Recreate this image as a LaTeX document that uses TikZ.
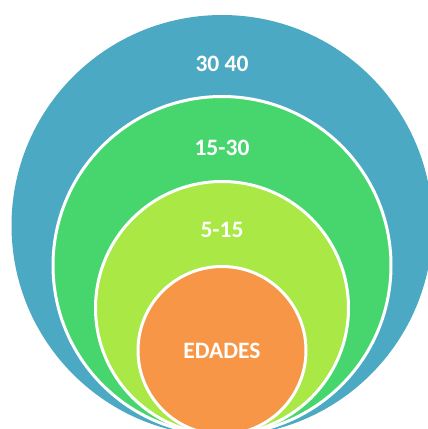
\documentclass[tikz,border=0pt]{standalone}
\usepackage{fontspec}
\setmainfont{Carlito}
\definecolor{cblue}{HTML}{4BA9C3}
\definecolor{cgreen}{HTML}{47D66E}
\definecolor{clime}{HTML}{A9E845}
\definecolor{corange}{HTML}{F79646}
\begin{document}
\begin{tikzpicture}[x=1pt,y=-1pt,
  ring/.style={circle, inner sep=0pt, outer sep=0pt, draw=white, line width=3pt},
  lbl/.style={text=white, font=\bfseries\fontsize{23.5}{24}\selectfont, inner sep=0pt}]
\useasboundingbox (0,0) rectangle (428,429);
\clip (0,0) rectangle (428,429);
\fill[white] (0,0) rectangle (428,429);
\node[circle, inner sep=0pt, fill=cblue, minimum size=421pt] (c1) at (222,225.5) {};
\node[ring, fill=cgreen, minimum size=338pt] (c2) at (222,265.5) {};
\node[ring, fill=clime, minimum size=253pt] (c3) at (222,308) {};
\node[ring, fill=corange, minimum size=168pt] (c4) at (222,350.5) {};
\node[lbl] (t1) at (222,64) {30 40};
\node[lbl] (t2) at (222,147.5) {15-30};
\node[lbl] (t3) at (222,229.5) {5-15};
\node[lbl] (t4) at (222,350.5) {EDADES};
\end{tikzpicture}
\end{document}
